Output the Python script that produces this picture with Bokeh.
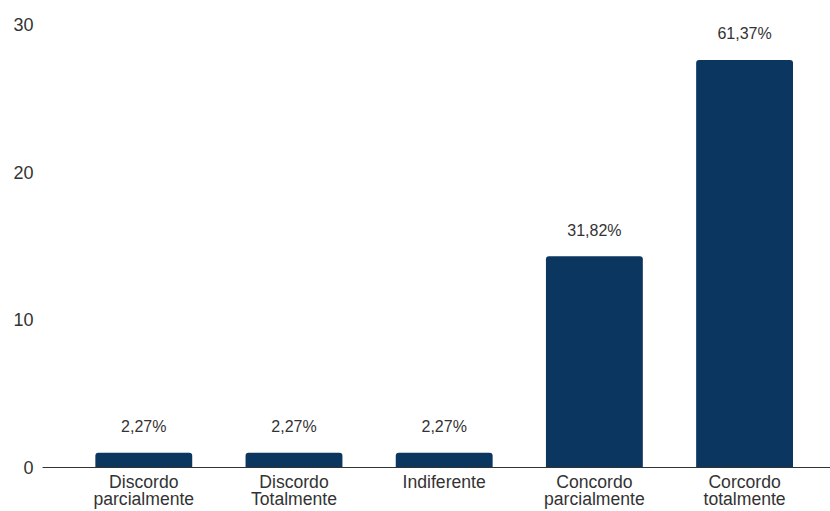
from bokeh.plotting import figure
from bokeh.models import ColumnDataSource, Range1d, FixedTicker
from bokeh.embed import file_html
from bokeh.resources import INLINE
from bokeh.core.properties import value

categories = ["Discordo\nparcialmente", "Discordo\nTotalmente", "Indiferente",
              "Concordo\nparcialmente", "Corcordo\ntotalmente"]
values = [1, 1, 1, 14.3, 27.6]
pct_labels = ["2,27%", "2,27%", "2,27%", "31,82%", "61,37%"]
y_ticks = [0, 10, 20, 30]

xs = list(range(len(categories)))
src = ColumnDataSource(dict(x=xs, top=values, lab=pct_labels))

FONT = "Liberation Sans"
TXT = "#333333"

p = figure(width=830, height=511, output_backend="svg", toolbar_location=None,
           x_range=Range1d(-0.6744, 4.572), y_range=Range1d(0, 30),
           min_border_left=42, min_border_right=0, min_border_top=24, min_border_bottom=30)
p.outline_line_color = None
p.background_fill_color = "white"
p.border_fill_color = "white"
p.xgrid.visible = False
p.ygrid.visible = False

p.vbar(x="x", top="top", bottom=0, width=0.645, source=src,
       fill_color="#0b365f", line_color=None, border_radius=(3, 3, 0, 0))

p.text(x="x", y="top", text="lab", source=src, text_align="center",
       text_baseline="middle", y_offset=-26, text_font=value(FONT),
       text_font_size="16px", text_color=TXT)

xa = p.xaxis[0]
xa.ticker = FixedTicker(ticks=xs)
xa.major_label_overrides = {i: c for i, c in enumerate(categories)}
xa.major_tick_line_color = None
xa.minor_tick_line_color = None
xa.major_tick_out = 0
xa.major_tick_in = 0
xa.axis_line_color = "#333333"
xa.axis_line_width = 1
xa.major_label_standoff = 4
xa.major_label_text_font = FONT
xa.major_label_text_font_size = "17.6px"
xa.major_label_text_color = TXT
xa.major_label_text_line_height = 0.85

ya = p.yaxis[0]
ya.ticker = FixedTicker(ticks=y_ticks)
ya.axis_line_color = None
ya.major_tick_line_color = None
ya.minor_tick_line_color = None
ya.major_tick_out = 0
ya.major_tick_in = 0
ya.major_label_standoff = 9
ya.major_label_text_font = FONT
ya.major_label_text_font_size = "18px"
ya.major_label_text_color = TXT

open("out.html", "w").write(file_html(p, INLINE))
